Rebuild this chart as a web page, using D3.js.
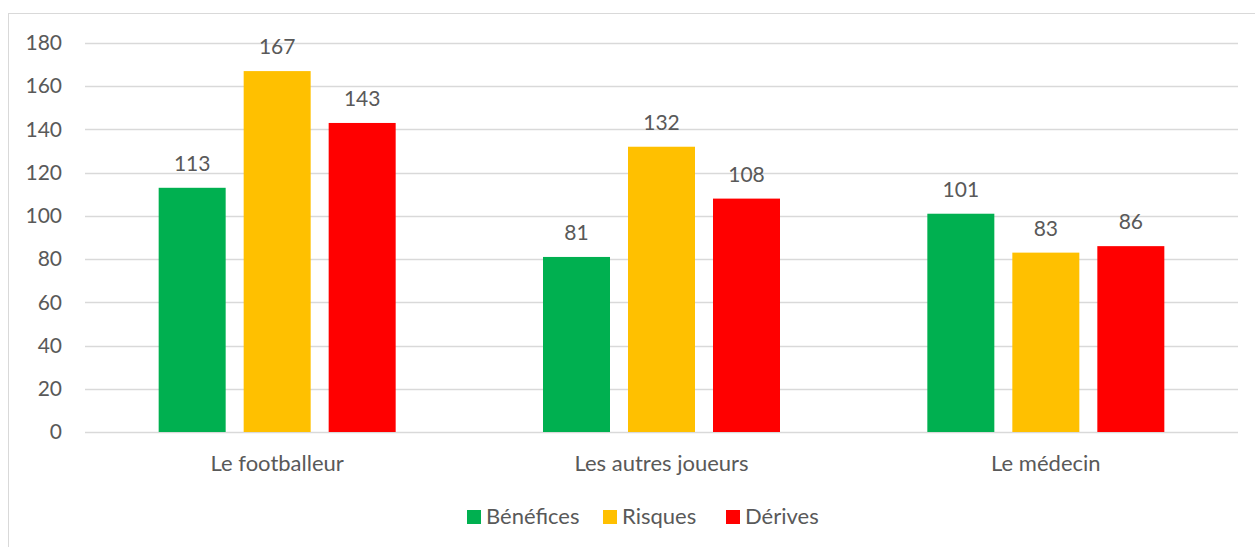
<!DOCTYPE html>
<html>
<head>
<meta charset="utf-8">
<script src="https://cdn.jsdelivr.net/npm/d3@7"></script>
<style>
  body { margin: 0; background: #fff; }
  svg text { font-family: Lato, "Open Sans", sans-serif; fill: #595959; }
</style>
</head>
<body>
<div id="chart"></div>
<script>
var categories = ["Le footballeur", "Les autres joueurs", "Le médecin"];
var seriesNames = ["Bénéfices", "Risques", "Dérives"];
var seriesColors = ["#00b050", "#ffc000", "#ff0000"];
var benefices = [113, 81, 101];
var risques = [167, 132, 83];
var derives = [143, 108, 86];
var yTicks = [0, 20, 40, 60, 80, 100, 120, 140, 160, 180];

var svgWidth = 1255, svgHeight = 547;
var plotLeft = 85, plotRight = 1238, plotTop = 43, plotBottom = 432;
var fontFam = "Lato, 'Open Sans', sans-serif";

var seriesValues = [benefices, risques, derives];
var rows = categories.map(function(c, i) {
    return { cat: c, vals: seriesValues.map(function(s, j) { return { name: seriesNames[j], value: s[i], color: seriesColors[j] }; }) };
});

var svg = d3.select("#chart").append("svg")
    .attr("width", svgWidth)
    .attr("height", svgHeight);

// outer frame
svg.append("rect")
    .attr("x", 8.5).attr("y", 13.5)
    .attr("width", 1260).attr("height", 560)
    .attr("fill", "none")
    .attr("stroke", "#d9d9d9")
    .attr("stroke-width", 1);

var x = d3.scaleBand()
    .domain(categories)
    .range([plotLeft, plotRight]);

var y = d3.scaleLinear()
    .domain([0, 180])
    .range([plotBottom, plotTop]);

var barW = 67, barGap = 18;
var inner = d3.scaleBand()
    .domain(seriesNames)
    .range([0, 3 * barW + 2 * barGap])
    .paddingInner(barGap / (barW + barGap));

// gridlines
svg.append("g").selectAll("line")
    .data(yTicks)
    .enter().append("line")
    .attr("x1", plotLeft).attr("x2", plotRight)
    .attr("y1", function(d) { return Math.round(y(d)) + 0.5; })
    .attr("y2", function(d) { return Math.round(y(d)) + 0.5; })
    .attr("stroke", "#d9d9d9")
    .attr("stroke-width", 1.5);

// y axis labels
var yAxis = svg.append("g")
    .attr("transform", "translate(" + plotLeft + ",0)")
    .call(d3.axisLeft(y).tickValues(yTicks).tickSize(0).tickPadding(23));
yAxis.select(".domain").remove();
yAxis.selectAll("text").attr("font-size", "21px").attr("fill", "#595959")
    .style("font-family", fontFam);

// bars
var groups = svg.append("g").selectAll("g")
    .data(rows)
    .enter().append("g")
    .attr("transform", function(d) {
        return "translate(" + (x(d.cat) + x.bandwidth() / 2 - (3 * barW + 2 * barGap) / 2) + ",0)";
    });

groups.selectAll("rect")
    .data(function(d) { return d.vals; })
    .enter().append("rect")
    .attr("x", function(d) { return inner(d.name); })
    .attr("width", inner.bandwidth())
    .attr("y", function(d) { return y(d.value); })
    .attr("height", function(d) { return y(0) - y(d.value); })
    .attr("fill", function(d) { return d.color; });

groups.selectAll("text")
    .data(function(d) { return d.vals; })
    .enter().append("text")
    .attr("x", function(d) { return inner(d.name) + inner.bandwidth() / 2; })
    .attr("y", function(d) { return y(d.value) - 17; })
    .attr("text-anchor", "middle")
    .attr("font-size", "21px")
    .text(function(d) { return d.value; });

// category labels
var xAxis = svg.append("g")
    .attr("transform", "translate(0," + plotBottom + ")")
    .call(d3.axisBottom(x).tickSize(0).tickPadding(23));
xAxis.select(".domain").remove();
xAxis.selectAll("text").attr("font-size", "22px").attr("fill", "#595959")
    .style("font-family", fontFam);

// legend
var legendX = [467, 603, 726];
var legend = svg.append("g").selectAll("g")
    .data(seriesNames)
    .enter().append("g")
    .attr("transform", function(d, i) { return "translate(" + legendX[i] + ",510)"; });
legend.append("rect")
    .attr("width", 14).attr("height", 14)
    .attr("fill", function(d, i) { return seriesColors[i]; });
legend.append("text")
    .attr("x", 19).attr("y", 14)
    .attr("font-size", "22px")
    .text(function(d) { return d; });
</script>
</body>
</html>
